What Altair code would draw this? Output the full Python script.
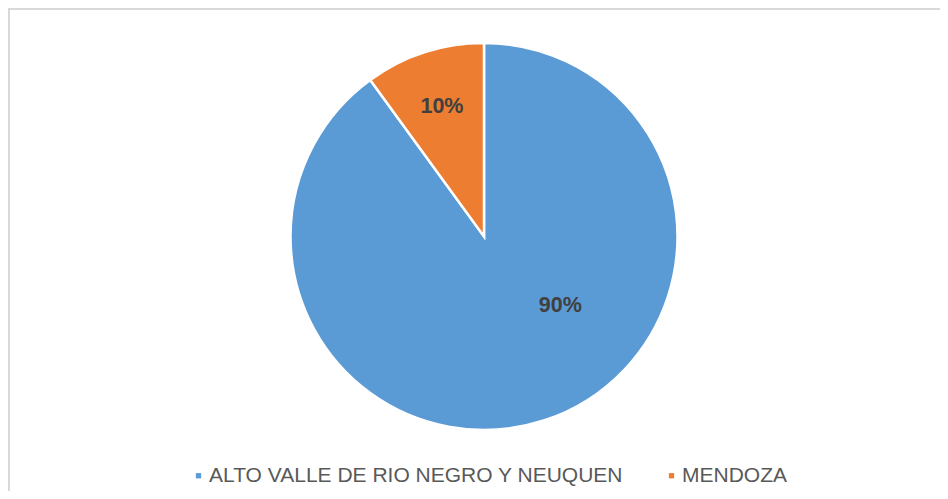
import altair as alt
import pandas as pd

categories = ["ALTO VALLE DE RIO NEGRO Y NEUQUEN", "MENDOZA"]
values = [90, 10]
labels = ["90%", "10%"]
colors = ["#5B9BD5", "#ED7D31"]

df = pd.DataFrame({"category": categories, "value": values, "label": labels})
frame_df = pd.DataFrame({"k": [0]})

CX, CY = 476, 228.5

base = alt.Chart(df)

color = alt.Color(
    "category:N",
    scale=alt.Scale(domain=categories, range=colors),
    legend=alt.Legend(
        title=None,
        orient="none",
        legendX=180,
        legendY=457,
        direction="horizontal",
        symbolType="square",
        symbolSize=28,
        symbolStrokeWidth=0,
        labelFont="Liberation Sans",
        labelFontSize=21,
        labelColor="#595959",
        labelLimit=0,
        labelOffset=0,
        columnPadding=37,
        padding=0,
    ),
)

pie = base.mark_arc(outerRadius=193.5, stroke="white", strokeWidth=2.5).encode(
    theta=alt.Theta("value:Q", stack=True),
    color=color,
    order=alt.Order("category:N"),
    x=alt.value(CX),
    y=alt.value(CY),
)

txt_style = dict(font="Liberation Sans", fontSize=21.5, fontWeight="bold", color="#404040")

label_big = base.mark_text(radius=103, thetaOffset=-0.52, **txt_style).encode(
    theta=alt.Theta("value:Q", stack=True),
    order=alt.Order("category:N"),
    text=alt.condition(alt.datum.category == categories[0], alt.Text("label:N"), alt.value("")),
    x=alt.value(CX),
    y=alt.value(CY),
)

label_small = base.mark_text(radius=136, **txt_style).encode(
    theta=alt.Theta("value:Q", stack=True),
    order=alt.Order("category:N"),
    text=alt.condition(alt.datum.category == categories[1], alt.Text("label:N"), alt.value("")),
    x=alt.value(CX),
    y=alt.value(CY),
)

frame = alt.Chart(frame_df).mark_rect(
    fill=None, fillOpacity=0, stroke="#d9d9d9", strokeWidth=4, clip=True
).encode(
    x=alt.value(0), x2=alt.value(1200), y=alt.value(0), y2=alt.value(800)
)

chart = (
    alt.layer(frame, pie, label_big, label_small)
    .properties(width=932, height=483, padding=0, background="white")
    .configure_view(stroke=None)
)

chart.save("out.html", embed_options={"renderer": "svg", "actions": False})
